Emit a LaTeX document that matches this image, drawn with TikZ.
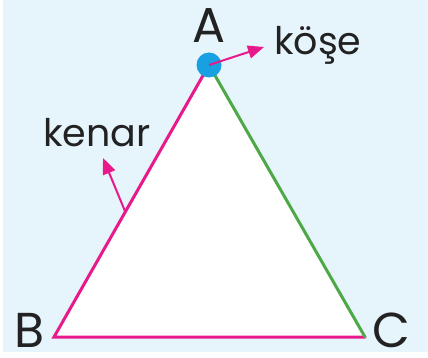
\documentclass[tikz,border=0pt]{standalone}
\usepackage{fontspec}
\setmainfont{Poppins}
\usetikzlibrary{arrows.meta,calc}
\definecolor{bgblue}{HTML}{E6F4FC}
\definecolor{pinkc}{HTML}{E8198B}
\definecolor{greenc}{HTML}{4DA846}
\definecolor{dotblue}{HTML}{18A0E2}
\definecolor{txt}{HTML}{222222}
\tikzset{
  edgepink/.style={draw=pinkc, line width=3pt, line cap=round},
  edgegreen/.style={draw=greenc, line width=3pt, line cap=round},
  pointer/.style={draw=pinkc, line width=2pt, -{Triangle[length=16pt,width=13pt]}},
  vlabel/.style={text=txt, inner sep=0pt, anchor=base, text depth=0pt, font=\fontsize{49}{49}\selectfont},
  wlabel/.style={text=txt, inner sep=0pt, anchor=base west, font=\fontsize{38}{38}\selectfont}
}
\begin{document}
\begin{tikzpicture}[x=1pt,y=-1pt]
\useasboundingbox (0,0) rectangle (428,358);
\fill[bgblue] (3,0) rectangle (428,352);
\coordinate (A) at (209,65);
\coordinate (B) at (54,337);
\coordinate (C) at (365,337);
\fill[white] (A) -- (B) -- (C) -- cycle;
\draw[edgepink] (C) -- (B) -- (A);
\draw[edgegreen] (A) -- (C);
\node[circle, fill=dotblue, minimum size=25pt, inner sep=0pt] (dot) at (A) {};
\node[vlabel] (la) at (209,43) {A};
\node[vlabel] (lb) at (30,347) {B};
\node[vlabel] (lc) at (391,347) {C};
\node[wlabel] (kose) at (274,55) {köşe};
\node[wlabel] (kenar) at (43,147) {kenar};
\coordinate (ktip) at (264,47);
\coordinate (etail) at ($(A)!0.54!(B)$);
\coordinate (etip) at (103,158);
\draw[pointer] (dot.center) -- (ktip);
\draw[pointer] (etail) -- (etip);
\end{tikzpicture}
\end{document}
